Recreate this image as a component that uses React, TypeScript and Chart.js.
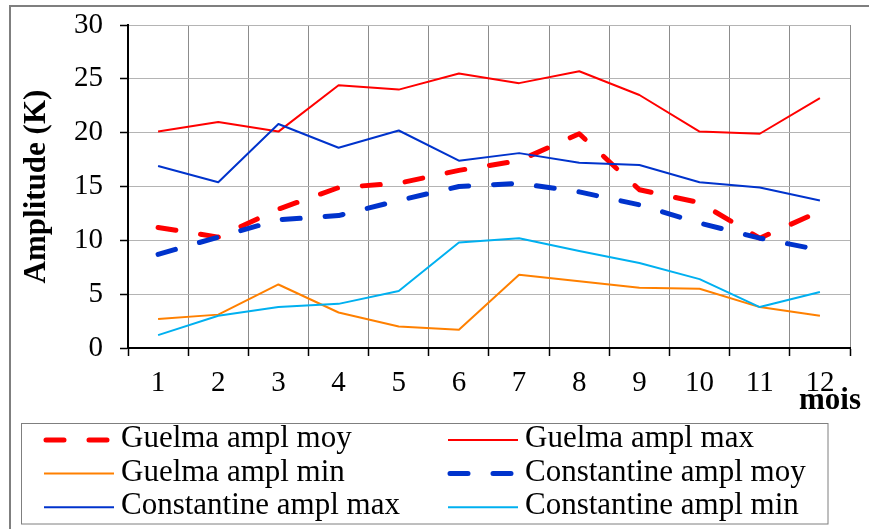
import React, { useEffect, useRef } from "react";
import { Chart, registerables } from "chart.js";

Chart.register(...registerables);

// ---- data ----
const months = ["1", "2", "3", "4", "5", "6", "7", "8", "9", "10", "11", "12"];
const guelmaMoy = [11.2, 10.3, 12.9, 14.9, 15.3, 16.5, 17.4, 19.9, 14.7, 13.5, 10.2, 12.7];
const guelmaMax = [20.1, 21.0, 20.1, 24.4, 24.0, 25.5, 24.6, 25.7, 23.5, 20.1, 19.9, 23.2];
const guelmaMin = [2.7, 3.1, 5.9, 3.3, 2.0, 1.7, 6.8, 6.2, 5.6, 5.5, 3.8, 3.0];
const constMoy = [8.7, 10.3, 11.9, 12.3, 13.7, 15.0, 15.3, 14.5, 13.3, 11.6, 10.2, 9.1];
const constMax = [16.9, 15.4, 20.8, 18.6, 20.2, 17.4, 18.1, 17.2, 17.0, 15.4, 14.9, 13.7];
const constMin = [1.2, 3.0, 3.8, 4.1, 5.3, 9.8, 10.2, 9.0, 7.9, 6.4, 3.8, 5.2];

const seriesLabels = [
  "Guelma ampl moy",
  "Guelma ampl max",
  "Guelma ampl min",
  "Constantine ampl moy",
  "Constantine ampl max",
  "Constantine ampl min",
];
const seriesColors = ["#ff0000", "#ff0000", "#ff8000", "#0033cc", "#0033cc", "#00b0f0"];
const seriesDashed = [true, false, false, true, false, false];
const seriesValues = [guelmaMoy, guelmaMax, guelmaMin, constMoy, constMax, constMin];

const yTitle = "Amplitude (K)";
const xTitle = "mois";

const SERIF = '"Liberation Serif", "Times New Roman", serif';
const DASH = [18, 25];

const decorPlugin = {
  id: "decor",
  afterDraw(chart: any) {
    const ctx: CanvasRenderingContext2D = chart.ctx;
    ctx.save();
    // outer frame (only left & top visible)
    ctx.strokeStyle = "#7f7f7f";
    ctx.lineWidth = 2;
    ctx.beginPath();
    ctx.moveTo(10, 540);
    ctx.lineTo(10, 6);
    ctx.lineTo(880, 6);
    ctx.stroke();

    // x axis title
    ctx.fillStyle = "#000";
    ctx.font = `bold 31px ${SERIF}`;
    ctx.textAlign = "right";
    ctx.textBaseline = "alphabetic";
    ctx.fillText(xTitle, 861, 409);

    // legend box
    ctx.lineWidth = 1;
    ctx.strokeStyle = "#7f7f7f";
    ctx.strokeRect(21.5, 423.5, 806.5, 100.5);

    const ds = chart.data.datasets;
    ds.forEach((d: any, i: number) => {
      const col = i % 2;
      const row = Math.floor(i / 2);
      const x0 = col === 0 ? 44 : 448;
      const x1 = x0 + 70;
      const y = 440 + row * 33.6;
      ctx.save();
      ctx.strokeStyle = d.borderColor;
      ctx.lineWidth = d.borderWidth;
      if (d.borderDash && d.borderDash.length) {
        ctx.setLineDash(d.borderDash);
        ctx.lineCap = "round";
        ctx.beginPath();
        ctx.moveTo(x0 + 2, y);
        ctx.lineTo(x1 - 4, y);
        ctx.stroke();
      } else {
        ctx.beginPath();
        ctx.moveTo(x0, y);
        ctx.lineTo(x1, y);
        ctx.stroke();
      }
      ctx.restore();
      ctx.fillStyle = "#000";
      ctx.font = `31px ${SERIF}`;
      ctx.textAlign = "left";
      ctx.textBaseline = "middle";
      ctx.fillText(d.label, x1 + 7, y - 1);
    });
    ctx.restore();
  },
};

export default function App() {
  const ref = useRef<HTMLCanvasElement | null>(null);

  useEffect(() => {
    if (!ref.current) return;
    const datasets = seriesValues.map((vals, i) => ({
      label: seriesLabels[i],
      data: vals,
      borderColor: seriesColors[i],
      backgroundColor: seriesColors[i],
      borderWidth: seriesDashed[i] ? 5 : 2,
      borderDash: seriesDashed[i] ? DASH : [],
      borderCapStyle: seriesDashed[i] ? "round" : "butt",
      borderJoinStyle: "round",
      pointRadius: 0,
      tension: 0,
      fill: false,
      order: seriesValues.length - i,
    }));

    const chart = new Chart(ref.current, {
      type: "line",
      data: { labels: months, datasets: datasets as any },
      options: {
        animation: false,
        responsive: false,
        events: [],
        layout: { padding: { top: 25, right: 19, bottom: 0, left: 0 } },
        plugins: {
          legend: { display: false },
          tooltip: { enabled: false },
          title: { display: false },
        },
        scales: {
          x: {
            type: "category",
            offset: true,
            grid: {
              offset: true,
              color: (c: any) => (c.index === months.length ? "#b4b4b4" : "#8c8c8c"),
              lineWidth: 1,
              tickColor: "#000",
              tickLength: 8,
              tickWidth: 1.5,
            },
            border: { color: "#000", width: 2 },
            ticks: {
              font: { family: SERIF, size: 29 },
              color: "#000",
              padding: 10,
              maxRotation: 0,
              autoSkip: false,
            },
            afterFit: (s: any) => {
              s.height = 181;
            },
          },
          y: {
            min: 0,
            max: 30,
            grid: {
              color: "#b4b4b4",
              lineWidth: 1,
              tickColor: "#000",
              tickLength: 8,
              tickWidth: 1.5,
            },
            border: { color: "#000", width: 2 },
            ticks: {
              stepSize: 5,
              font: { family: SERIF, size: 29 },
              color: "#000",
              padding: 17,
            },
            title: {
              display: true,
              text: yTitle,
              font: { family: SERIF, size: 31, weight: "bold" },
              color: "#000",
              padding: { top: 18, bottom: 0 },
            },
            afterFit: (s: any) => {
              s.width = 128;
              s.paddingTop = 0;
              s.paddingBottom = 0;
            },
          },
        },
      } as any,
      plugins: [decorPlugin],
    });
    return () => chart.destroy();
  }, []);

  return (
    <div style={{ position: "fixed", left: 0, top: 0, width: 869, height: 529, background: "#fff" }}>
      <canvas ref={ref} width={869} height={529} style={{ width: 869, height: 529, display: "block" }} />
    </div>
  );
}
